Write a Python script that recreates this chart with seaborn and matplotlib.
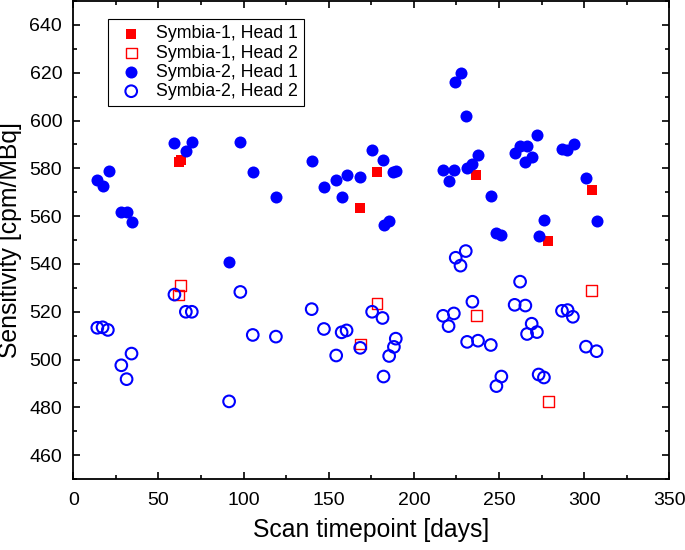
import matplotlib
matplotlib.use('Agg')
import matplotlib.pyplot as plt
import seaborn as sns
import pandas as pd
from matplotlib.ticker import MultipleLocator

sns.set_style('ticks')
plt.rcParams['font.family'] = ['Liberation Sans', 'DejaVu Sans']
plt.rcParams['text.color'] = 'black'
plt.rcParams['axes.labelcolor'] = 'black'
plt.rcParams['xtick.color'] = 'black'
plt.rcParams['ytick.color'] = 'black'

# Symbia-1 (red squares)
s1_days = [62, 63, 168.5, 178.3, 236.8, 279, 304.4]
s1_head1 = [582.5, 583.5, 563.5, 578.6, 577.2, 549.7, 571.1]
s1_head2 = [527, 531, 506.5, 523.6, 518.3, 482.4, 529]

# Symbia-2 (blue circles)
s2_days_h1 = [13.9, 17.4, 20.7, 28.2, 31.5, 34.4, 59.4, 66.3, 69.6, 91.5,
              98.1, 105.4, 119, 140, 147.2, 154.3, 157.6, 160.5, 168.5, 175.5,
              181.6, 182.4, 185.7, 188, 189.5, 217.4, 220.5, 223.6, 224.2, 227.6,
              230.5, 231.1, 234.4, 237.7, 245.2, 248.1, 251.4, 259.2, 262.2, 265.3,
              266.3, 269.4, 272.3, 273.3, 276.4, 287.2, 290.1, 293.8, 301.3, 307.5]
s2_head1 = [575, 572.8, 578.8, 561.7, 561.7, 557.5, 590.5, 587.1, 591.1, 540.7,
            591, 578.6, 568, 583, 572.1, 575, 568, 577.2, 576.5, 587.9,
            583.3, 556.3, 558, 578.5, 579, 579.4, 574.6, 579.4, 616.3, 620,
            601.8, 580.1, 582, 585.4, 568.5, 553, 552.2, 586.4, 589.3, 582.5,
            589.4, 584.7, 593.9, 551.8, 558.5, 588, 587.9, 590.4, 576, 557.8]

s2_days_h2 = [14.1, 17.2, 20.3, 28.2, 31.3, 34.2, 59.4, 66.1, 69.6, 91.5,
              98.1, 105.4, 119, 140, 147.2, 154.4, 157.6, 160.5, 168.5, 175.5,
              181.6, 182.2, 185.5, 188.3, 189.4, 217.2, 220.4, 223.5, 224.6, 227.4,
              230.5, 231.3, 234.4, 237.7, 245.2, 248.5, 251.4, 259.2, 262.4, 265.5,
              266.5, 269.2, 272.3, 273.3, 276.4, 287, 290.3, 293.4, 301.1, 307.3]
s2_head2 = [513.3, 513.5, 512.4, 497.6, 491.8, 502.5, 527.2, 520, 520, 482.5,
            528.3, 510.3, 509.6, 521.1, 512.8, 501.7, 511.4, 512.2, 504.9, 520,
            517.4, 492.9, 501.5, 505.3, 508.75, 518.3, 514, 519.3, 542.6, 539.3,
            545.4, 507.4, 524.2, 507.9, 506.1, 488.9, 492.9, 522.9, 532.6, 522.6,
            510.7, 515, 511.5, 493.75, 492.5, 520.4, 520.7, 517.9, 505.4, 503.5]

RED = '#ff0000'
BLUE = '#0000ff'

fig, ax = plt.subplots(figsize=(6.85, 5.5), dpi=100)

series = [
    ('Symbia-1, Head 1', s1_days, s1_head1, 's', RED, True, 55),
    ('Symbia-1, Head 2', s1_days, s1_head2, 's', RED, False, 60),
    ('Symbia-2, Head 1', s2_days_h1, s2_head1, 'o', BLUE, True, 75),
    ('Symbia-2, Head 2', s2_days_h2, s2_head2, 'o', BLUE, False, 70),
]

for label, xs, ys, mk, col, filled, size in series:
    df = pd.DataFrame({'day': xs, 'sens': ys})
    sns.scatterplot(data=df, x='day', y='sens', marker=mk, color=col, s=size,
                    edgecolor=col, linewidth=0 if filled else (1.0 if mk == 's' else 1.5),
                    label=label, ax=ax)
    if not filled:
        ax.collections[-1].set_facecolor('none')
        ax.collections[-1].set_edgecolor(col)

ax.set_xlim(0, 350)
ax.set_ylim(450, 650)
ax.xaxis.set_major_locator(MultipleLocator(50))
ax.xaxis.set_minor_locator(MultipleLocator(25))
ax.yaxis.set_minor_locator(MultipleLocator(10))
ax.set_yticks(range(460, 641, 20))
ax.tick_params(which='both', direction='in', top=True, right=True, width=1.2)
ax.tick_params(which='major', length=5, labelsize=14)
ax.tick_params(which='minor', length=3)
ax.tick_params(axis='x', which='major', pad=9)
ax.tick_params(axis='y', which='major', pad=8)
for sp in ax.spines.values():
    sp.set_linewidth(1.3)
    sp.set_color('black')

ax.set_xlabel('Scan timepoint [days]', fontsize=17.8, labelpad=7)
ax.set_ylabel('Sensitivity [cpm/MBq]', fontsize=17.8, labelpad=5)

leg = ax.legend(loc='upper left', bbox_to_anchor=(0.059, 0.962), borderaxespad=0,
                fontsize=12.8, frameon=True, fancybox=False, edgecolor='black',
                labelspacing=0.12, handlelength=1.86, handletextpad=0.47,
                borderpad=0.35, framealpha=1)
leg.get_frame().set_linewidth(0.8)

plt.subplots_adjust(left=0.107, right=0.977, bottom=0.129, top=0.998)
plt.savefig('out.png', dpi=100)
